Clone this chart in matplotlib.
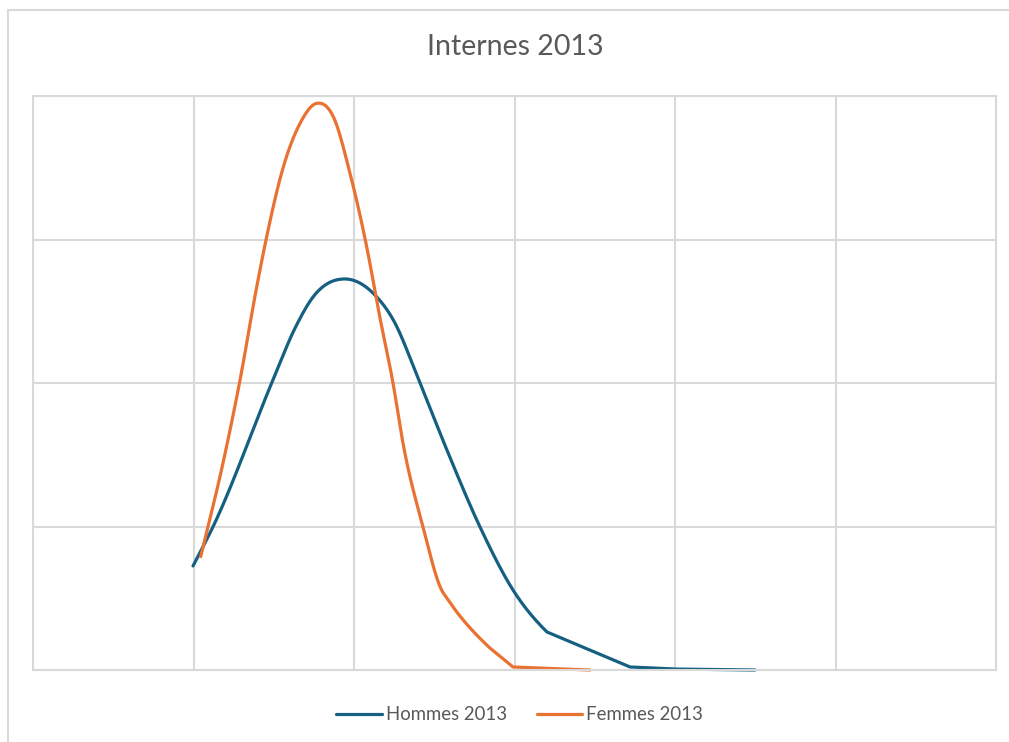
import numpy as np
import matplotlib
matplotlib.use("Agg")
import matplotlib.pyplot as plt
from matplotlib.patches import Rectangle

title = "Internes 2013"
series_names = ["Hommes 2013", "Femmes 2013"]

hommes_x = [0.997, 1.121, 1.495, 1.632, 1.746, 1.944, 2.120, 2.245,
            2.411, 2.579, 2.785, 2.991, 3.202, 3.720, 3.988, 4.498]
hommes_y = [0.725, 0.997, 2.021, 2.381, 2.601, 2.725, 2.625, 2.439,
            2.000, 1.533, 0.997, 0.557, 0.265, 0.021, 0.007, 0.000]

femmes_x = [1.045, 1.184, 1.290, 1.394, 1.456, 1.560, 1.664, 1.768, 1.871, 1.975,
            2.079, 2.162, 2.243, 2.305, 2.430, 2.546, 2.578, 2.847, 2.991, 3.097, 3.470]
femmes_y = [0.790, 1.443, 2.021, 2.671, 3.020, 3.507, 3.810, 3.949, 3.856, 3.462,
            2.950, 2.453, 2.000, 1.582, 0.997, 0.557, 0.502, 0.153, 0.021, 0.016, 0.000]

colors = ["#156082", "#E97132"]


def smooth(xs, ys, n=30, tail=0.3):
    """Piecewise cubic Hermite curve with three-point tangents;
    straight segments in the low tail (both ends below `tail`)."""
    x = np.asarray(xs, float)
    y = np.asarray(ys, float)
    h = np.diff(x)
    s = np.diff(y) / h
    d = np.zeros_like(y)
    for i in range(1, len(x) - 1):
        d[i] = (h[i] * s[i - 1] + h[i - 1] * s[i]) / (h[i - 1] + h[i])
    d[0] = s[0]
    d[-1] = s[-1]
    ox, oy = [x[0]], [y[0]]
    t = np.linspace(0, 1, n + 1)[1:]
    for i in range(len(x) - 1):
        d0, d1 = d[i], d[i + 1]
        if y[i] < tail and y[i + 1] < tail:
            d0 = d1 = s[i]
        h00 = 2 * t ** 3 - 3 * t ** 2 + 1
        h10 = t ** 3 - 2 * t ** 2 + t
        h01 = -2 * t ** 3 + 3 * t ** 2
        h11 = t ** 3 - t ** 2
        ox.extend(x[i] + t * h[i])
        oy.extend(h00 * y[i] + h10 * h[i] * d0 + h01 * y[i + 1] + h11 * h[i] * d1)
    return np.array(ox), np.clip(np.array(oy), 0, None)


plt.rcParams['font.family'] = ['Lato', 'DejaVu Sans']

fig = plt.figure(figsize=(10.09, 7.42), dpi=100)
fig.patch.set_facecolor("white")

# chart area border
fig.patches.append(Rectangle((8 / 1009, -0.05), 1.1, (742 - 10) / 742 + 0.05,
                             transform=fig.transFigure, fill=False,
                             edgecolor="#D9D9D9", linewidth=1.5, zorder=0))

ax = fig.add_axes([33 / 1009, 1 - 670 / 742, (996 - 33) / 1009, (670 - 96) / 742])
ax.set_xlim(0, 6)
ax.set_ylim(0, 4)
ax.set_xticks(np.arange(0, 7, 1))
ax.set_yticks(np.arange(0, 5, 1))
ax.grid(True, color="#D9D9D9", linewidth=1.5)
ax.set_axisbelow(True)
ax.tick_params(length=0, labelleft=False, labelbottom=False)
for s in ax.spines.values():
    s.set_color("#D9D9D9")
    s.set_linewidth(1.5)

for xs, ys, c, name in [(hommes_x, hommes_y, colors[0], series_names[0]),
                        (femmes_x, femmes_y, colors[1], series_names[1])]:
    sx, sy = smooth(xs, ys)
    ax.plot(sx, sy, color=c, linewidth=2.3, label=name, solid_capstyle="round",
            clip_on=False)

fig.text(515 / 1009, 1 - 47 / 742, title, ha="center", va="center", fontsize=20.5,
         color="#595959")

fig.legend(loc="center", bbox_to_anchor=(519.5 / 1009, 1 - 715 / 742), ncol=2,
           frameon=False, fontsize=13.4, labelcolor="#595959", handlelength=2.45,
           handletextpad=0.22, columnspacing=1.6)

fig.savefig("out.png", dpi=100)
